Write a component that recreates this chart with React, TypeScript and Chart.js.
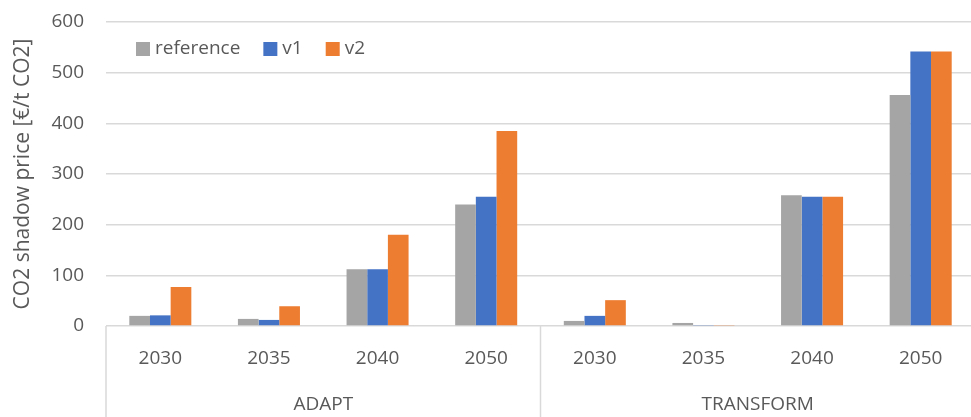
import React, { useEffect, useRef } from "react";
import { Chart, registerables } from "chart.js";

Chart.register(...registerables);

// Category rows: year on the first row, scenario group on the second
const years = ["2030", "2035", "2040", "2050", "2030", "2035", "2040", "2050"];
const groups = ["ADAPT", "TRANSFORM"];
const groupSize = 4;

// CO2 shadow price per run, €/t CO2
const referenceValues = [20, 14, 112, 240, 10, 6, 258, 456];
const v1Values = [21, 12, 112, 255, 20, 2, 255, 542];
const v2Values = [77, 39, 180, 385, 51, 2, 255, 542];

const yTicks = [0, 100, 200, 300, 400, 500, 600];

const TEXT = "#595959";
const GRID = "#d9d9d9";
const FONT = "'Open Sans', 'Noto Sans', sans-serif";

const insideLegend = {
  id: "insideLegend",
  afterDraw(chart: any) {
    const { ctx, chartArea } = chart;
    ctx.save();
    ctx.font = `19px ${FONT}`;
    ctx.textBaseline = "middle";
    let x = chartArea.left + 30;
    const y = chartArea.top + 27;
    chart.data.datasets.forEach((ds: any) => {
      ctx.fillStyle = ds.backgroundColor;
      ctx.fillRect(x, y - 7, 14, 14);
      x += 19;
      ctx.fillStyle = TEXT;
      ctx.textAlign = "left";
      ctx.fillText(ds.label, x, y);
      x += ctx.measureText(ds.label).width + 23;
    });
    ctx.restore();
  },
};

const groupAxis = {
  id: "groupAxis",
  afterDraw(chart: any) {
    const { ctx, chartArea, scales } = chart;
    const xs = scales.x;
    const bottom = chart.height;
    const half = (xs.getPixelForValue(1) - xs.getPixelForValue(0)) / 2;
    ctx.save();
    ctx.strokeStyle = GRID;
    ctx.lineWidth = 1.5;
    const edges: number[] = [];
    for (let g = 0; g <= groups.length; g++) {
      const idx = g * groupSize;
      edges.push(
        idx < years.length
          ? xs.getPixelForValue(idx) - half
          : xs.getPixelForValue(years.length - 1) + half
      );
    }
    edges.forEach((ex) => {
      ctx.beginPath();
      ctx.moveTo(ex, chartArea.bottom);
      ctx.lineTo(ex, bottom);
      ctx.stroke();
    });
    ctx.fillStyle = TEXT;
    ctx.font = `19px ${FONT}`;
    ctx.textAlign = "center";
    ctx.textBaseline = "middle";
    groups.forEach((name, g) => {
      ctx.fillText(name, (edges[g] + edges[g + 1]) / 2, chartArea.bottom + 79);
    });
    ctx.restore();
  },
};

export default function App() {
  const canvasRef = useRef<HTMLCanvasElement | null>(null);

  useEffect(() => {
    const canvas = canvasRef.current;
    if (!canvas) return;
    const bar = { categoryPercentage: 0.571, barPercentage: 1.0, borderWidth: 0 };
    const chart = new Chart(canvas, {
      type: "bar",
      data: {
        labels: years,
        datasets: [
          { label: "reference", data: referenceValues, backgroundColor: "#A5A5A5", ...bar },
          { label: "v1", data: v1Values, backgroundColor: "#4472C4", ...bar },
          { label: "v2", data: v2Values, backgroundColor: "#ED7D31", ...bar },
        ],
      },
      options: {
        animation: false,
        responsive: true,
        maintainAspectRatio: false,
        layout: { padding: { top: 22, right: 2, left: 0, bottom: 0 } },
        plugins: {
          legend: { display: false },
          tooltip: { enabled: false },
        },
        scales: {
          x: {
            grid: { display: false },
            border: { display: false },
            ticks: {
              color: TEXT,
              font: { size: 19, family: FONT },
              padding: 13,
              maxRotation: 0,
              autoSkip: false,
            },
            afterFit(scale: any) {
              scale.height = 91;
            },
          },
          y: {
            min: 0,
            max: 600,
            afterBuildTicks(scale: any) {
              scale.ticks = yTicks.map((v) => ({ value: v }));
            },
            grid: { color: GRID, lineWidth: 1.5, drawTicks: false },
            border: { display: false },
            ticks: {
              color: TEXT,
              font: { size: 19, family: FONT },
              padding: 22,
            },
            title: {
              display: true,
              text: "CO2 shadow price [€/t CO2]",
              color: TEXT,
              font: { size: 21, family: FONT },
              padding: { top: 10, bottom: 0 },
            },
            afterFit(scale: any) {
              scale.width = 106;
              scale.paddingTop = 0;
              scale.paddingBottom = 0;
            },
          },
        },
      },
      plugins: [insideLegend, groupAxis],
    });
    return () => chart.destroy();
  }, []);

  return (
    <div
      style={{
        position: "fixed",
        left: 0,
        top: 0,
        width: 971,
        height: 417,
        overflow: "hidden",
        background: "#ffffff",
      }}
    >
      <div style={{ position: "relative", width: 977, height: 417 }}>
        <canvas ref={canvasRef} />
      </div>
    </div>
  );
}
